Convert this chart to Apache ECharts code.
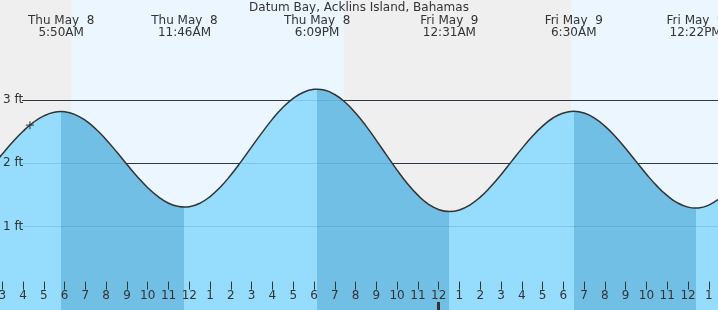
<!DOCTYPE html>
<html>
<head>
<meta charset="utf-8">
<script src="https://cdn.jsdelivr.net/npm/echarts@6/dist/echarts.min.js"></script>
<style>
  html, body { margin: 0; padding: 0; background: #fff; }
  #chart { width: 718px; height: 310px; }
</style>
</head>
<body>
<div id="chart"></div>
<script>
// hours counted from Thu May 8 00:00
var tideHours = [2.5, 3, 3.5, 4, 4.5, 5, 5.5, 5.833, 6, 6.5, 7, 7.5, 8, 8.5, 9, 9.5, 10, 10.5, 11, 11.5, 11.767,
  12, 12.5, 13, 13.5, 14, 14.5, 15, 15.5, 16, 16.5, 17, 17.5, 18, 18.15, 18.5, 19, 19.5, 20, 20.5, 21, 21.5,
  22, 22.5, 23, 23.5, 24, 24.517, 25, 25.5, 26, 26.5, 27, 27.5, 28, 28.5, 29, 29.5, 30, 30.5, 31, 31.5,
  32, 32.5, 33, 33.5, 34, 34.5, 35, 35.5, 36, 36.367, 36.5, 37, 37.5, 38];
var tideFeet = [1.945, 2.144, 2.334, 2.505, 2.645, 2.747, 2.804, 2.815, 2.812, 2.768, 2.675, 2.54, 2.371, 2.18, 1.98, 1.787, 1.612, 1.47, 1.366, 1.313, 1.305,
  1.311, 1.365, 1.472, 1.624, 1.814, 2.029, 2.257, 2.483, 2.696, 2.879, 3.025, 3.122, 3.167, 3.17, 3.156, 3.086, 2.963, 2.793, 2.59, 2.361, 2.123,
  1.89, 1.676, 1.494, 1.354, 1.266, 1.235, 1.26, 1.338, 1.463, 1.627, 1.818, 2.024, 2.23, 2.421, 2.586, 2.714, 2.793, 2.82, 2.793, 2.713,
  2.586, 2.422, 2.231, 2.028, 1.826, 1.641, 1.486, 1.371, 1.305, 1.29, 1.292, 1.337, 1.437, 1.587];

// high / low tide events
var eventHours = [5.833, 11.767, 18.15, 24.517, 30.5, 36.367];
var eventTypes = ['high', 'low', 'high', 'low', 'high', 'low'];
var eventLabels = ['Thu May  8\n5:50AM', 'Thu May  8\n11:46AM', 'Thu May  8\n6:09PM',
  'Fri May  9\n12:31AM', 'Fri May  9\n6:30AM', 'Fri May  9\n12:22PM'];

// daylight: [sunrise, sunset]
var daylight = [[6.31, 19.44], [30.37, 43.45]];

var hourTicks = [];
for (var h = 3; h <= 37; h++) hourTicks.push(h);
var midnightTicks = [24];
var feetLevels = [1, 2, 3];
var nowPoint = [4.33, 2.6];

var title = 'Datum Bay, Acklins Island, Bahamas';

var xMin = 2.89, xMax = 37.443;
var lineStart = 3.95;

var tideData = tideHours.map(function (t, i) { return [t, tideFeet[i]]; });

// falling tide (high -> next low) gets the darker fill
var fallPieces = [];
for (var i = 0; i < eventHours.length - 1; i++) {
  if (eventTypes[i] === 'high') {
    fallPieces.push({ gte: eventHours[i], lt: eventHours[i + 1], color: '#72bfe5' });
  }
}

var font = 'DejaVu Sans';

var myChart = echarts.init(document.getElementById('chart'));
myChart.setOption({
  animation: false,
  title: {
    text: title,
    left: 'center',
    top: 2,
    padding: 0,
    textStyle: { fontFamily: font, fontSize: 12, fontWeight: 'normal', color: '#333' }
  },
  grid: {
    left: 0, right: 0, top: 0, bottom: 0,
    containLabel: false,
    outerBoundsMode: 'none',
    show: true, backgroundColor: '#efefef', borderWidth: 0
  },
  visualMap: {
    show: false,
    type: 'piecewise',
    dimension: 0,
    seriesIndex: 0,
    pieces: fallPieces,
    outOfRange: { color: '#96dcfc' }
  },
  xAxis: [
    {
      type: 'value', min: xMin, max: xMax, position: 'bottom', z: 10,
      axisLine: { show: false },
      splitLine: { show: false },
      axisTick: {
        show: true, inside: true, length: 8, customValues: hourTicks,
        lineStyle: { color: '#333', width: 1 }
      },
      axisLabel: {
        show: true, inside: true, margin: 8, customValues: hourTicks,
        fontFamily: font, fontSize: 12, color: '#333',
        formatter: function (v) { var r = v % 12; return String(r === 0 ? 12 : r); }
      }
    },
    {
      type: 'value', min: xMin, max: xMax, position: 'top', z: 10,
      axisLine: { show: false },
      splitLine: { show: false },
      axisTick: { show: false },
      axisLabel: {
        show: true, inside: true, margin: 15, customValues: eventHours,
        fontFamily: font, fontSize: 12, lineHeight: 12, color: '#333',
        formatter: function (v) { return eventLabels[eventHours.indexOf(v)]; }
      }
    },
    {
      type: 'value', min: xMin, max: xMax, position: 'bottom', z: 10,
      axisLine: { show: false },
      splitLine: { show: false },
      axisTick: {
        show: true, inside: true, length: 8, customValues: midnightTicks,
        lineStyle: { color: '#333', width: 3 }
      },
      axisLabel: { show: false }
    }
  ],
  yAxis: {
    type: 'value', min: -0.322, max: 4.58, z: 10,
    axisLine: { show: false },
    axisTick: { show: false },
    splitLine: { show: false },
    axisLabel: {
      inside: true, margin: 3, customValues: feetLevels,
      fontFamily: font, fontSize: 12, color: '#333',
      formatter: '{value} ft'
    }
  },
  series: [
    {
      name: 'fill',
      type: 'line',
      data: tideData,
      smooth: true,
      symbol: 'none',
      silent: true,
      z: 2,
      lineStyle: { width: 0 },
      areaStyle: { opacity: 1, origin: 'start' },
      markArea: {
        z: 0,
        silent: true,
        itemStyle: { color: '#ebf6ff' },
        data: daylight.map(function (d) { return [{ xAxis: d[0] }, { xAxis: d[1] }]; })
      },
      markLine: {
        z: 3,
        silent: true,
        symbol: ['none', 'none'],
        label: { show: false },
        lineStyle: { color: 'rgba(30,100,160,0.18)', width: 1, type: 'solid' },
        data: feetLevels.map(function (f) { return [{ coord: [lineStart, f] }, { coord: [xMax, f] }]; })
      }
    },
    {
      name: 'line',
      type: 'line',
      data: tideData,
      smooth: true,
      symbol: 'none',
      silent: true,
      z: 4,
      lineStyle: { color: '#333', width: 1.5 },
      markLine: {
        z: 1,
        silent: true,
        symbol: ['none', 'none'],
        label: { show: false },
        lineStyle: { color: '#333', width: 1, type: 'solid' },
        data: feetLevels.map(function (f) { return [{ coord: [lineStart, f] }, { coord: [xMax, f] }]; })
      }
    },
    {
      name: 'now',
      type: 'scatter',
      data: [nowPoint],
      z: 5,
      silent: true,
      symbol: 'path://M0,5 L10,5 M5,0 L5,10',
      symbolSize: 8,
      itemStyle: { color: 'none', borderColor: '#333', borderWidth: 1.3 }
    }
  ]
});
</script>
</body>
</html>
